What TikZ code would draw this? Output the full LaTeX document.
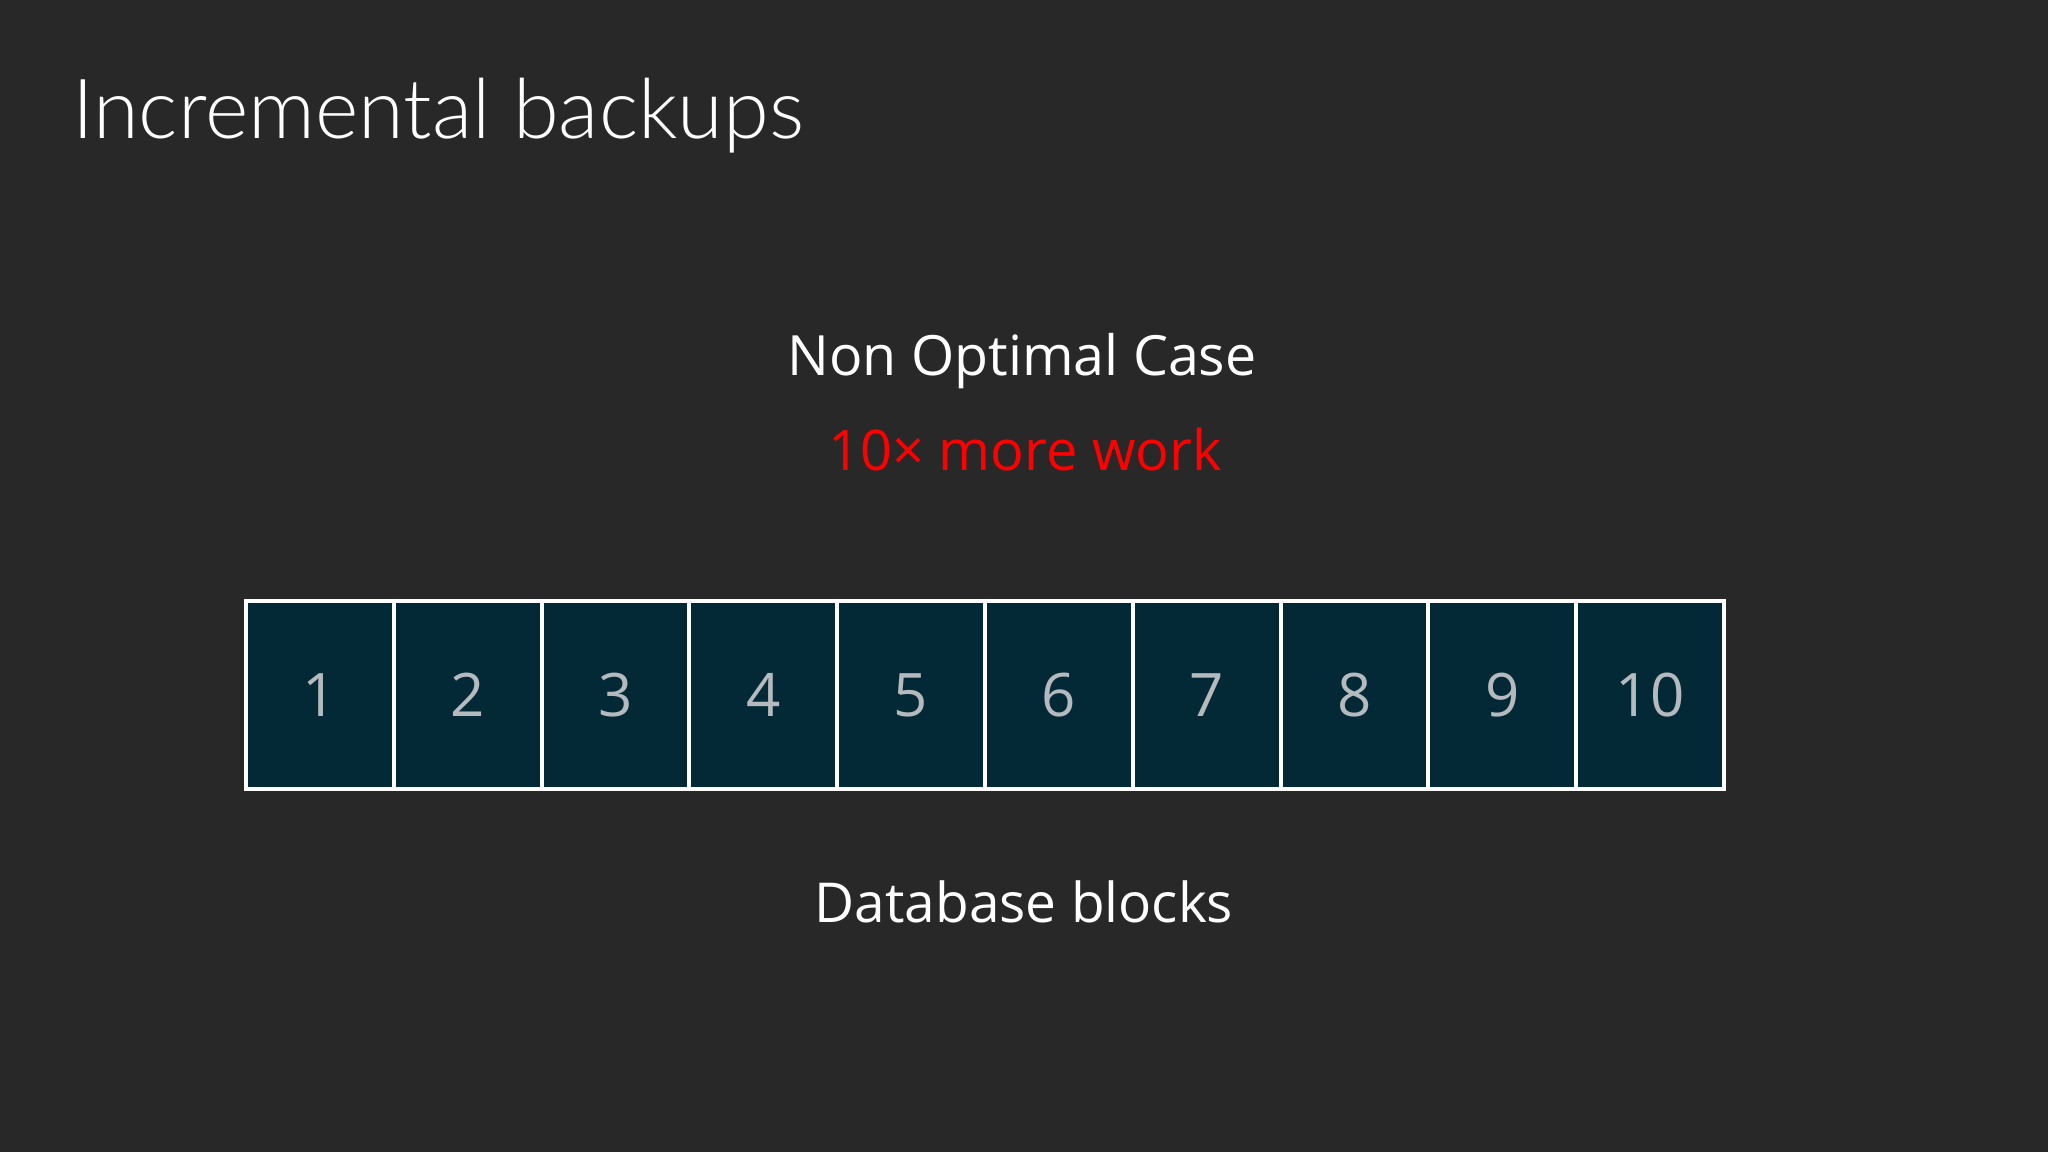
\documentclass[tikz,border=0pt]{standalone}
\usepackage{fontspec}
\setmainfont{Open Sans}
\newfontfamily\lightfont{Lato Light}
\definecolor{bgc}{HTML}{282828}
\definecolor{blockfill}{HTML}{032937}
\definecolor{numgray}{HTML}{B4BABD}
\definecolor{redtxt}{HTML}{FF0000}
\begin{document}
\begin{tikzpicture}[x=1pt,y=-1pt,
  blockbox/.style={draw=white, line width=4pt, fill=blockfill, minimum width=147.8pt, minimum height=188pt, inner sep=0pt, anchor=north west,
    font=\fontsize{60}{60}\selectfont, text=numgray},
  lbl/.style={text=white, inner sep=0pt, anchor=base}]
\fill[bgc] (0,0) rectangle (2048,1152);
\useasboundingbox (0,0) rectangle (2048,1152);
\node[lbl, anchor=base west, font=\lightfont\fontsize{83}{83}\selectfont] (title) at (72,138) {Incremental backups};
\node[lbl, font=\fontsize{55.5}{55.5}\selectfont] (case) at (1022,375) {Non Optimal Case};
\node[lbl, text=redtxt, font=\fontsize{56}{56}\selectfont] (work) at (1025,470) {10× more work};
\foreach \i in {1,...,10}{
  \node[blockbox] (b\i) at ({244+(\i-1)*147.8},599) {\i};
}
\node[lbl, font=\fontsize{55}{55}\selectfont] (db) at (1024,922) {Database blocks};
\end{tikzpicture}
\end{document}
